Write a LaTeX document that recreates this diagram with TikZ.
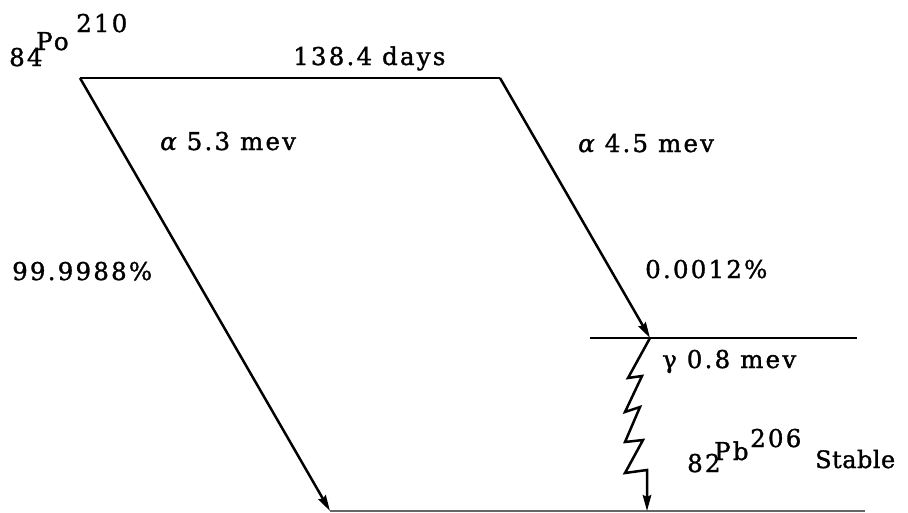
\documentclass[tikz,border=0pt]{standalone}
\usepackage{fontspec}
\setmainfont{DejaVu Serif}[LetterSpace=9,FakeBold=1.3]
\usetikzlibrary{arrows.meta}
\tikzset{
  level/.style={line width=2.8pt},
  decay/.style={line width=2.5pt,-{Stealth[length=16pt,width=8.5pt,inset=2pt]}},
  lbl/.style={anchor=base west,inner sep=0pt,font=\fontsize{24.5}{27}\selectfont},
}
\begin{document}
\begin{tikzpicture}[x=1pt,y=-1pt]
\useasboundingbox (0,0) rectangle (908,512);
% level coordinates
\coordinate (poL) at (80,78);
\coordinate (poR) at (500,78);
\coordinate (excL) at (590,338);
\coordinate (exc) at (650,338);
\coordinate (excR) at (857,338);
\coordinate (pbL) at (330,511);
\coordinate (pbA) at (647,511);
\coordinate (pbR) at (865,511);
% levels
\draw[level] (poL) -- (poR);
\draw[level] (excL) -- (excR);
\draw[level,black!60] (pbL) -- (pbR);
% alpha decays
\draw[decay] (poL) -- (pbL);
\draw[decay] (poR) -- (exc);
% gamma zigzag
\draw[decay,line join=miter] (exc) -- (628,378) -- (642,376) -- (625,412) -- (640,407) -- (625,442) -- (643,440) -- (625,473) -- (647,470) -- (pbA);
% labels
\node[lbl] (t84) at (9,66) {84};
\node[lbl] (tPo) at (36,50) {Po};
\node[lbl] (t210) at (76,32) {210};
\node[lbl] (days) at (293,65) {138.4 days};
\node[lbl] (a53) at (160,150) {{\itshape α} 5.3 mev};
\node[lbl] (a45) at (578,152) {{\itshape α} 4.5 mev};
\node[lbl] (p1) at (12,280) {99.9988\%};
\node[lbl] (p2) at (645,278) {0.0012\%};
\node[lbl] (g08) at (662,368) {γ 0.8 mev};
\node[lbl] (t82) at (687,472) {82};
\node[lbl] (tPb) at (714,460) {Pb};
\node[lbl] (t206) at (750,447) {206};
\node[lbl,font=\fontsize{24}{26}\selectfont\addfontfeature{LetterSpace=2}] (stab) at (815,468) {Stable};
\end{tikzpicture}
\end{document}
